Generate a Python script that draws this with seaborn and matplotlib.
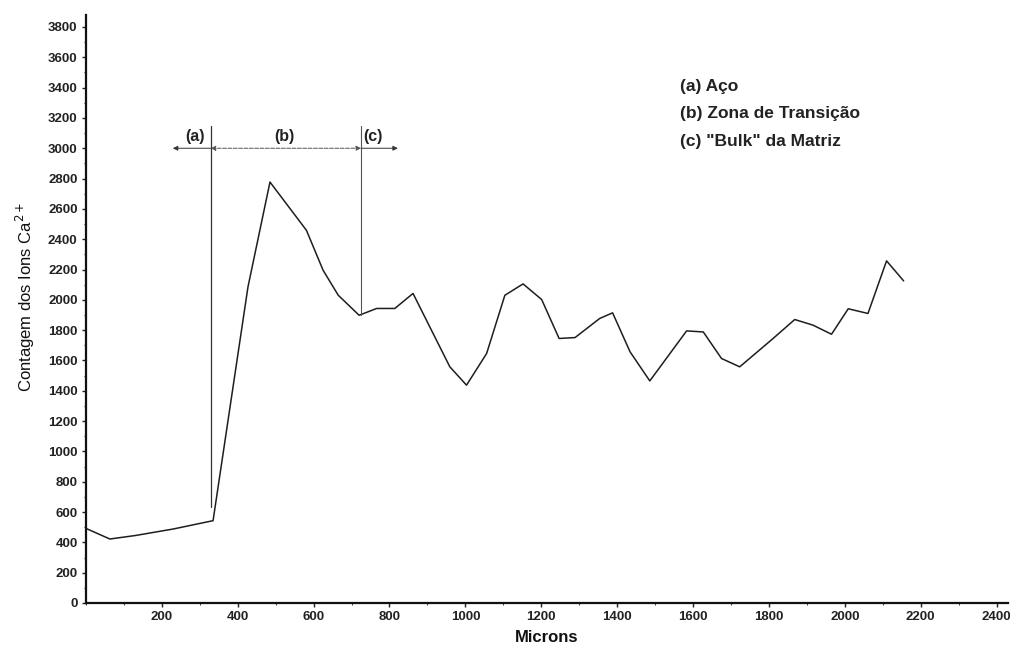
import numpy as np
import pandas as pd
import matplotlib
matplotlib.use("Agg")
import matplotlib.pyplot as plt
import seaborn as sns
from matplotlib.ticker import MultipleLocator

# Ca2+ ion counts along the profile (microns from the steel surface)
microns = [0, 63, 130, 230, 335, 427, 485, 581, 625, 665, 720, 766, 814, 862,
           959, 1003, 1056, 1104, 1152, 1201, 1247, 1289, 1354, 1388, 1434,
           1486, 1583, 1627, 1675, 1723, 1811, 1868, 1916, 1965, 2009, 2061,
           2110, 2155]
counts = [492, 422, 445, 488, 543, 2085, 2777, 2459, 2195, 2030, 1898, 1943,
          1943, 2042, 1558, 1437, 1646, 2030, 2105, 2002, 1745, 1751, 1877,
          1914, 1657, 1465, 1795, 1788, 1613, 1558, 1745, 1870, 1833, 1773,
          1941, 1910, 2257, 2125]

x_ticks = list(range(200, 2401, 200))
y_ticks = list(range(0, 3801, 200))

zone_labels = ["(a)", "(b)", "(c)"]
legend_lines = ["(a) Aço", "(b) Zona de Transição", "(c) \"Bulk\" da Matriz"]

# zone boundaries (microns)
boundary_steel = 329
boundary_bulk = 725

df = pd.DataFrame({"Microns": microns, "Contagem": counts})

sns.set_theme(style="ticks")
plt.rcParams["font.family"] = ["Liberation Sans", "DejaVu Sans"]

fig = plt.figure(figsize=(10.10, 6.46), dpi=100)
ax = fig.add_axes([0.0851, 0.0666, 0.9129, 0.9104])

sns.lineplot(data=df, x="Microns", y="Contagem", ax=ax, color="#1e1e1e",
             linewidth=1.1, estimator=None, sort=False)

ax.set_xlim(0, 2430)
ax.set_ylim(0, 3880)

ax.set_xticks(x_ticks)
ax.set_xticklabels([str(v) for v in x_ticks], fontsize=9.5, fontweight="bold")
ax.set_yticks(y_ticks)
ax.set_yticklabels([str(v) for v in y_ticks], fontsize=9.5, fontweight="bold")
ax.xaxis.set_minor_locator(MultipleLocator(100))
ax.yaxis.set_minor_locator(MultipleLocator(100))
ax.tick_params(axis="both", which="major", length=3, width=1.0, color="#222",
               pad=3, labelcolor="#222")
ax.tick_params(axis="both", which="minor", length=1.5, width=0.8, color="#444")

for side in ("top", "right"):
    ax.spines[side].set_visible(False)
for side in ("left", "bottom"):
    ax.spines[side].set_linewidth(1.6)
    ax.spines[side].set_color("#111")

ax.set_xlabel("Microns", fontsize=12, fontweight="bold", labelpad=5, color="#111")
ax.set_ylabel("Contagem dos Ions Ca$^{2+}$", fontsize=12, color="#111")
ax.yaxis.set_label_coords(-0.053, 0.52)

# zone boundaries
ax.plot([boundary_steel, boundary_steel], [633, 3150], color="#333", lw=0.9)
ax.plot([boundary_bulk, boundary_bulk], [1900, 3150], color="#555", lw=0.8)

arrow_y = 3000
arrow_kw = dict(arrowstyle="-|>", color="#333", lw=0.7, mutation_scale=7,
                shrinkA=0, shrinkB=0)
ax.annotate("", xy=(229, arrow_y), xytext=(boundary_steel, arrow_y),
            arrowprops=arrow_kw)
ax.annotate("", xy=(boundary_bulk, arrow_y), xytext=(boundary_steel, arrow_y),
            arrowprops=dict(arrowstyle="<|-|>", color="#555", lw=0.7,
                            mutation_scale=7, shrinkA=0, shrinkB=0,
                            linestyle=(0, (4, 1.5))))
ax.annotate("", xy=(822, arrow_y), xytext=(boundary_bulk, arrow_y),
            arrowprops=arrow_kw)

for label, xpos in zip(zone_labels, [287, 522, 757]):
    ax.text(xpos, 3075, label, ha="center", va="center", fontsize=11.5,
            fontweight="bold", color="#222")

for line, ypos in zip(legend_lines, [3408, 3232, 3045]):
    ax.text(1565, ypos, line, ha="left", va="center", fontsize=12.5,
            fontweight="bold", color="#222")

fig.savefig("out.png", dpi=100, facecolor="white")
